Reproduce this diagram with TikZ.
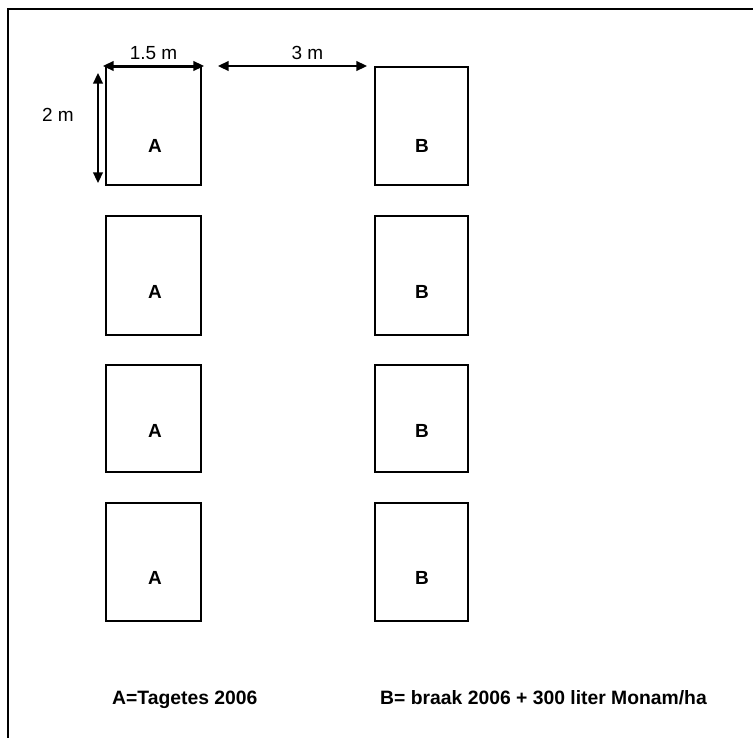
\documentclass[tikz,border=0pt]{standalone}
\usepackage{fontspec}
\setmainfont{Liberation Sans}
\usetikzlibrary{arrows.meta}

\begin{document}
\begin{tikzpicture}[x=0.2mm, y=-0.2mm,
  plot/.style={line width=1.3pt},
  maat/.style={{Triangle[length=6pt,width=5.5pt]}-{Triangle[length=6pt,width=5.5pt]}, line width=1pt},
  txt/.style={font=\fontsize{10.8}{13}\selectfont},
  btxt/.style={font=\fontsize{10.8}{13}\selectfont\bfseries},
  ctxt/.style={font=\fontsize{11}{13}\selectfont\bfseries}]
\useasboundingbox (0,0) rectangle (753,737);

% frame
\draw[line width=1.5pt] (8,745) -- (8,9) -- (760,9);

% plots
\foreach \n/\t/\b/\l in {1/67/185/146, 2/216/335/292, 3/365/472/431, 4/503/621/578} {
  \draw[plot] (106,\t) rectangle (201,\b);
  \draw[plot] (375,\t) rectangle (468,\b);
  \node[btxt] (A\n) at (155,\l) {A};
  \node[btxt] (B\n) at (422,\l) {B};
}

\coordinate (W1) at (103,66);
\coordinate (W2) at (204,66);
\coordinate (L1) at (98,73);
\coordinate (L2) at (98,183);
\coordinate (G1) at (218,66);
\coordinate (G2) at (367,66);

\draw[maat] (W1) -- (W2) node[midway,above,txt] (bw) {1.5 m};
\draw[maat] (L1) -- (L2);
\node[txt] (ll) at (58,115) {2 m};
\draw[maat] (G1) -- (G2) node[pos=0.6,above,txt] (gap) {3 m};

\node[ctxt, anchor=base west] (capA) at (106,704) {A=Tagetes 2006};
\node[ctxt, anchor=base west] (capB) at (374,704) {B= braak 2006 + 300 liter Monam/ha};
\end{tikzpicture}
\end{document}
